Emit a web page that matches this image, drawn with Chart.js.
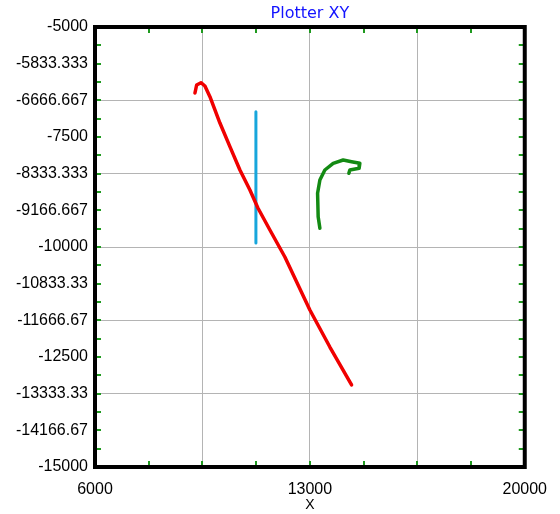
<!DOCTYPE html>
<html>
<head>
<meta charset="utf-8">
<script src="https://cdn.jsdelivr.net/npm/chart.js@4.4.1/dist/chart.umd.min.js"></script>
<style>
  html, body { margin: 0; padding: 0; background: #fff; }
  #wrap { width: 560px; height: 514px; }
</style>
</head>
<body>
<div id="wrap"><canvas id="xyChart" width="560" height="514"></canvas></div>
<script>
// === Data ===
const redX = [9256, 9311, 9451, 9581, 9744, 10070, 10395, 10721, 11047, 11307, 11698, 12186, 13000, 13651, 14358];
const redY = [-6500, -6318, -6266, -6341, -6584, -7182, -7720, -8250, -8705, -9114, -9614, -10227, -11432, -12273, -13136];

const blueX = [11242, 11242];
const blueY = [-6925, -9909];

const greenX = [13326, 13270, 13251, 13326, 13488, 13759, 14084, 14358, 14628, 14605, 14302, 14270];
const greenY = [-9575, -9311, -8780, -8477, -8250, -8098, -8023, -8061, -8098, -8211, -8250, -8325];

const xTickValues = [6000, 7750, 9500, 11250, 13000, 14750, 16500, 18250, 20000];
const xTickLabels = ["6000", "", "", "", "13000", "", "", "", "20000"];

const yTickValues = [-5000, -5833.333, -6666.667, -7500, -8333.333, -9166.667, -10000,
  -10833.33, -11666.67, -12500, -13333.33, -14166.67, -15000];
const yTickLabels = ["-5000", "-5833.333", "-6666.667", "-7500", "-8333.333", "-9166.667", "-10000",
  "-10833.33", "-11666.67", "-12500", "-13333.33", "-14166.67", "-15000"];

function toPoints(xs, ys) {
  return xs.map((x, i) => ({ x: x, y: ys[i] }));
}

// === Frame + inner green ticks ===
const framePlugin = {
  id: "frame",
  afterDatasetsDraw(chart) {
    const { ctx, chartArea: a, scales } = chart;
    ctx.save();
    ctx.strokeStyle = "#1f9a1f";
    ctx.lineWidth = 2;
    const len = 6;
    ctx.beginPath();
    xTickValues.forEach((v) => {
      const px = Math.round(scales.x.getPixelForValue(v));
      ctx.moveTo(px, a.top);
      ctx.lineTo(px, a.top + len);
      ctx.moveTo(px, a.bottom);
      ctx.lineTo(px, a.bottom - len);
    });
    // minor ticks on y: every label plus halfway between labels
    const yMarks = [];
    yTickValues.forEach((v, i) => {
      yMarks.push(v);
      if (i < yTickValues.length - 1) yMarks.push((v + yTickValues[i + 1]) / 2);
    });
    yMarks.forEach((v) => {
      const py = Math.round(scales.y.getPixelForValue(v));
      ctx.moveTo(a.left, py);
      ctx.lineTo(a.left + len, py);
      ctx.moveTo(a.right, py);
      ctx.lineTo(a.right - len, py);
    });
    ctx.stroke();
    ctx.strokeStyle = "#000";
    ctx.lineWidth = 4;
    ctx.strokeRect(a.left, a.top, a.right - a.left, a.bottom - a.top);
    ctx.restore();
  },
};

const lineStyle = {
  showLine: true,
  pointRadius: 0,
  tension: 0,
  borderJoinStyle: "round",
  borderCapStyle: "round",
};

new Chart(document.getElementById("xyChart").getContext("2d"), {
  type: "scatter",
  data: {
    datasets: [
      Object.assign({ data: toPoints(redX, redY), borderColor: "#f00000", borderWidth: 3.5, order: 0 }, lineStyle),
      Object.assign({ data: toPoints(greenX, greenY), borderColor: "#138a13", borderWidth: 3.5, order: 1 }, lineStyle),
      Object.assign({ data: toPoints(blueX, blueY), borderColor: "#17a6dc", borderWidth: 3, order: 2 }, lineStyle),
    ],
  },
  options: {
    responsive: false,
    animation: false,
    layout: { padding: { left: 0, right: 35, top: 0, bottom: 0 } },
    plugins: {
      legend: { display: false },
      tooltip: { enabled: false },
      title: {
        display: true,
        fullSize: false,
        text: "Plotter XY",
        color: "#1414ff",
        font: { family: "DejaVu Sans", size: 16, weight: "normal", lineHeight: 1.1 },
        padding: { top: 5, bottom: 4.4 },
      },
    },
    scales: {
      x: {
        type: "linear",
        min: 6000,
        max: 20000,
        afterBuildTicks: (scale) => {
          scale.ticks = xTickValues.map((v) => ({ value: v }));
        },
        afterFit: (scale) => {
          scale.height = 47;
        },
        ticks: {
          autoSkip: false,
          maxRotation: 0,
          padding: 13,
          color: "#000",
          font: { family: "Liberation Sans", size: 16 },
          callback: (v, i) => xTickLabels[i],
        },
        grid: {
          drawTicks: false,
          color: (c) => (c.index % 2 === 0 ? "#b4b4b4" : "rgba(0,0,0,0)"),
          lineWidth: 1,
        },
        border: { display: false },
        title: {
          display: true,
          text: "X",
          color: "#000",
          font: { family: "Liberation Sans", size: 14 },
          padding: { top: 0, bottom: 0 },
        },
      },
      y: {
        type: "linear",
        min: -15000,
        max: -5000,
        afterBuildTicks: (scale) => {
          scale.ticks = yTickValues.map((v) => ({ value: v }));
        },
        afterFit: (scale) => {
          scale.width = 95;
        },
        ticks: {
          autoSkip: false,
          padding: 7,
          color: "#000",
          font: { family: "Liberation Sans", size: 16 },
          callback: (v, i) => yTickLabels[i],
        },
        grid: {
          drawTicks: false,
          color: (c) => (c.index % 2 === 0 ? "#b4b4b4" : "rgba(0,0,0,0)"),
          lineWidth: 1,
        },
        border: { display: false },
      },
    },
  },
  plugins: [framePlugin],
});
</script>
</body>
</html>
